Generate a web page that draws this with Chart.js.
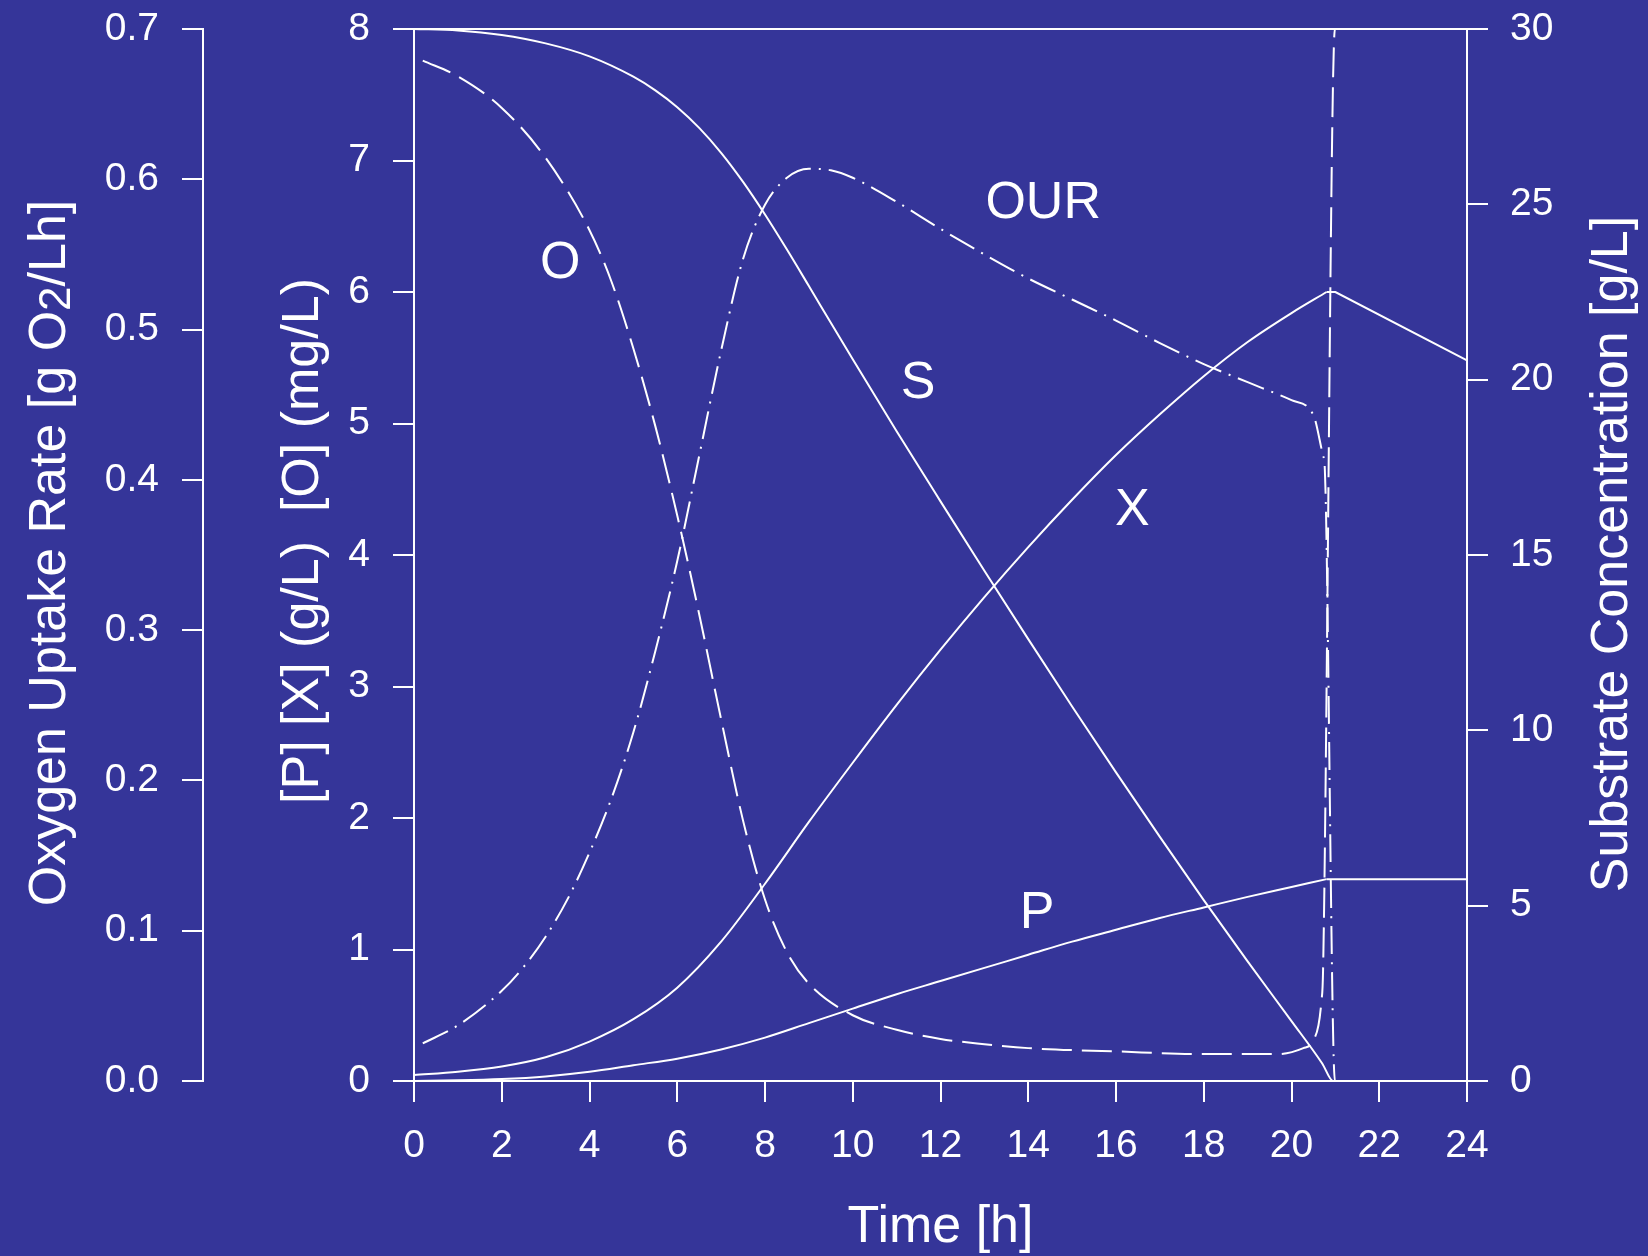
<!DOCTYPE html>
<html>
<head>
<meta charset="utf-8">
<script src="https://cdn.jsdelivr.net/npm/chart.js@4/dist/chart.umd.min.js"></script>
<style>
  html, body { margin: 0; padding: 0; background: #353599; }
  canvas { display: block; }
</style>
</head>
<body>
<canvas id="chart" width="1648" height="1256"></canvas>
<script>
const BG = '#353599';
const FG = '#ffffff';
const FONT = "'Liberation Sans', Arial, Helvetica, sans-serif";

// tick labels
const timeTicks = [0, 2, 4, 6, 8, 10, 12, 14, 16, 18, 20, 22, 24];
const ourTicks = [0, 0.1, 0.2, 0.3, 0.4, 0.5, 0.6, 0.7];
const concTicks = [0, 1, 2, 3, 4, 5, 6, 7, 8];
const substrateTicks = [0, 5, 10, 15, 20, 25, 30];

// biomass X (g/L) - growth part, then the straight tail after feed stop
const xTime = [0, 1, 2, 3, 4, 5, 6, 7, 8, 9, 10, 11, 12, 13, 14, 15, 16, 17, 18, 19, 20, 20.8];
const xValues = [0.045, 0.07, 0.11, 0.18, 0.3, 0.47, 0.71, 1.06, 1.5, 1.97, 2.42, 2.86, 3.28, 3.68, 4.06, 4.42, 4.76, 5.07, 5.36, 5.62, 5.84, 6.0];
const xTailTime = [20.8, 21, 24];
const xTailValues = [6.0, 6.0, 5.48];

// product P (g/L)
const pTime = [0, 1, 2, 3, 4, 5, 6, 7, 8, 9, 10, 11, 12, 13, 14, 15, 16, 17, 18, 19, 20, 20.8];
const pValues = [0, 0.005, 0.015, 0.035, 0.07, 0.12, 0.17, 0.24, 0.33, 0.44, 0.55, 0.66, 0.76, 0.86, 0.96, 1.06, 1.15, 1.24, 1.32, 1.40, 1.475, 1.535];
const pTailTime = [20.8, 21, 24];
const pTailValues = [1.535, 1.535, 1.535];

// dissolved oxygen O (mg/L)
const oTime = [0.2, 1, 2, 3, 4, 4.5, 5, 5.5, 6, 6.5, 7, 7.5, 8, 8.5, 9, 10, 11, 12, 13, 14, 16, 18, 19.7, 20.27, 20.5, 20.68, 20.72, 20.99, 24];
const oValues = [7.76, 7.64, 7.4, 7.02, 6.47, 6.08, 5.57, 4.98, 4.3, 3.55, 2.75, 1.98, 1.38, 0.98, 0.74, 0.5, 0.39, 0.32, 0.28, 0.25, 0.225, 0.205, 0.205, 0.25, 0.31, 0.6, 0.85, 8.0, 8.0];

// substrate S (g/L, right axis)
const sTime = [0, 1, 2, 3, 4, 5, 5.5, 6, 6.5, 7, 7.5, 8, 8.5, 9, 9.5, 10, 11, 12, 13, 14, 15, 16, 17, 18, 19, 20, 20.7, 20.95, 24];
const sValues = [30, 29.96, 29.83, 29.59, 29.22, 28.64, 28.25, 27.77, 27.18, 26.47, 25.64, 24.71, 23.71, 22.67, 21.62, 20.58, 18.53, 16.53, 14.55, 12.6, 10.68, 8.8, 6.96, 5.16, 3.41, 1.71, 0.5, 0, 0];

// oxygen uptake rate OUR (g O2/Lh, outer left axis)
const ourTime = [0.2, 1, 2, 2.5, 3, 3.5, 4, 4.5, 5, 5.5, 6, 6.5, 7, 7.5, 8, 8.5, 9, 9.5, 10, 11, 12, 13, 14, 15, 16, 17, 18, 19, 20, 20.5, 20.72, 20.76, 20.99, 24];
const ourValues = [0.025, 0.037, 0.060, 0.076, 0.096, 0.121, 0.152, 0.188, 0.232, 0.286, 0.346, 0.416, 0.486, 0.547, 0.583, 0.601, 0.607, 0.606, 0.601, 0.585, 0.567, 0.550, 0.534, 0.520, 0.506, 0.491, 0.477, 0.465, 0.453, 0.443, 0.416, 0.407, 0, 0];

// curve labels, placed in time / left-axis units
const curveLabels = ['O', 'OUR', 'S', 'X', 'P'];
const curveLabelTime = [3.33, 14.34, 11.49, 16.37, 14.2];
const curveLabelLevel = [6.23, 6.69, 5.32, 4.35, 1.29];

const toPoints = (t, v) => t.map((x, i) => ({ x: x, y: v[i] }));
const setTicks = arr => scale => { scale.ticks = arr.map(v => ({ value: v })); };
const fixWidth = w => s => { s.width = w; s.paddingTop = 0; s.paddingBottom = 0; };

const gridOpts = { display: true, drawOnChartArea: false, drawTicks: true, tickLength: 21, color: FG, lineWidth: 2 };
const borderOpts = { display: true, color: FG, width: 2 };
const tickFont = { family: FONT, size: 39 };

function lineSet(label, data, axis, dash, smooth) {
  return {
    label: label,
    data: data,
    yAxisID: axis,
    borderColor: FG,
    borderWidth: 2,
    borderDash: dash,
    pointRadius: 0,
    fill: false,
    clip: false,
    tension: 0,
    cubicInterpolationMode: smooth ? 'monotone' : 'default'
  };
}

function drawRotated(ctx, parts, x, yCenter) {
  ctx.save();
  ctx.translate(x, yCenter);
  ctx.rotate(-Math.PI / 2);
  ctx.textAlign = 'left';
  ctx.textBaseline = 'alphabetic';
  let total = 0;
  parts.forEach(p => {
    ctx.font = p.size + 'px ' + FONT;
    p.w = ctx.measureText(p.text).width;
    total += p.w;
  });
  let cx = -total / 2;
  parts.forEach(p => {
    ctx.font = p.size + 'px ' + FONT;
    ctx.fillText(p.text, cx, p.shift || 0);
    cx += p.w;
  });
  ctx.restore();
}

const decorations = {
  id: 'decorations',
  beforeDraw(chart) {
    const ctx = chart.ctx;
    ctx.save();
    ctx.fillStyle = BG;
    ctx.fillRect(0, 0, chart.width, chart.height);
    ctx.restore();
  },
  afterDraw(chart) {
    const ctx = chart.ctx;
    const area = chart.chartArea;
    const xs = chart.scales.x;
    const yl = chart.scales.yL;
    ctx.save();
    ctx.fillStyle = FG;

    drawRotated(ctx, [
      { text: 'Oxygen Uptake Rate [g O', size: 52 },
      { text: '2', size: 44, shift: 5 },
      { text: '/Lh]', size: 52 }
    ], 65, 553);
    drawRotated(ctx, [{ text: '[P] [X] (g/L)  [O] (mg/L)', size: 52 }], 318, 541);
    drawRotated(ctx, [{ text: 'Substrate Concentration [g/L]', size: 52 }], 1627, 554);

    ctx.font = '52px ' + FONT;
    ctx.textAlign = 'center';
    ctx.textBaseline = 'alphabetic';
    ctx.fillText('Time [h]', (area.left + area.right) / 2, 1242);

    ctx.textBaseline = 'middle';
    curveLabels.forEach((txt, i) => {
      ctx.fillText(txt, xs.getPixelForValue(curveLabelTime[i]), yl.getPixelForValue(curveLabelLevel[i]) + 2);
    });
    ctx.restore();
  }
};

new Chart(document.getElementById('chart'), {
  type: 'line',
  data: {
    datasets: [
      lineSet('S', toPoints(sTime, sValues), 'yS', [], true),
      lineSet('X', toPoints(xTime, xValues), 'yL', [], true),
      lineSet('X tail', toPoints(xTailTime, xTailValues), 'yL', [], false),
      lineSet('P', toPoints(pTime, pValues), 'yL', [], true),
      lineSet('P tail', toPoints(pTailTime, pTailValues), 'yL', [], false),
      lineSet('O', toPoints(oTime, oValues), 'yL', [30, 10], true),
      lineSet('OUR', toPoints(ourTime, ourValues), 'yOUR', [28, 8, 2, 8], true)
    ]
  },
  plugins: [decorations],
  options: {
    responsive: false,
    maintainAspectRatio: false,
    devicePixelRatio: 1,
    animation: false,
    layout: { padding: { top: 29, left: 0, right: 0, bottom: 0 } },
    plugins: {
      legend: { display: false },
      tooltip: { enabled: false },
      title: { display: false }
    },
    scales: {
      x: {
        type: 'linear',
        position: 'bottom',
        min: 0,
        max: 24,
        afterBuildTicks: setTicks(timeTicks),
        ticks: { color: FG, font: tickFont, padding: 21, maxRotation: 0, autoSkip: false },
        grid: gridOpts,
        border: borderOpts,
        afterFit: s => { s.height = 175; }
      },
      xTop: {
        type: 'linear',
        position: 'top',
        min: 0,
        max: 24,
        ticks: { display: false },
        grid: { display: false },
        border: borderOpts,
        afterFit: s => { s.height = 0; }
      },
      yOUR: {
        type: 'linear',
        position: 'left',
        weight: 2,
        min: 0,
        max: 0.7,
        afterBuildTicks: setTicks(ourTicks),
        ticks: { color: FG, font: tickFont, padding: 23, callback: v => v.toFixed(1) },
        grid: gridOpts,
        border: borderOpts,
        afterFit: fixWidth(203)
      },
      yL: {
        type: 'linear',
        position: 'left',
        weight: 1,
        min: 0,
        max: 8,
        afterBuildTicks: setTicks(concTicks),
        ticks: { color: FG, font: tickFont, padding: 23 },
        grid: gridOpts,
        border: borderOpts,
        afterFit: fixWidth(211)
      },
      yS: {
        type: 'linear',
        position: 'right',
        min: 0,
        max: 30,
        afterBuildTicks: setTicks(substrateTicks),
        ticks: { color: FG, font: tickFont, padding: 22 },
        grid: gridOpts,
        border: borderOpts,
        afterFit: fixWidth(181)
      }
    }
  }
});
</script>
</body>
</html>
